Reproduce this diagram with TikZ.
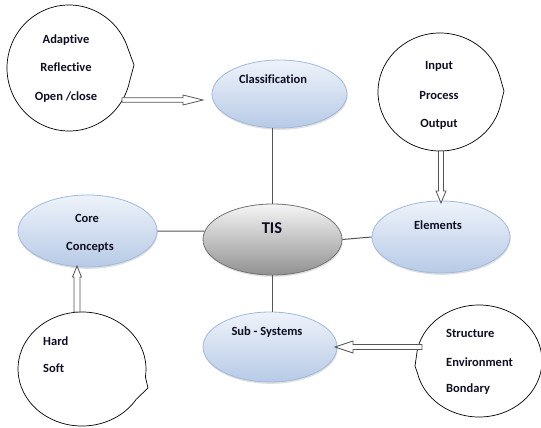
\documentclass[tikz,border=0pt]{standalone}
\usepackage{fontspec}
\setmainfont{Carlito}[Ligatures=NoCommon]
\usetikzlibrary{shapes.geometric,calc,shadows}
\definecolor{txtcol}{RGB}{15,15,35}
\definecolor{bluetop}{RGB}{238,243,250}
\definecolor{bluebot}{RGB}{183,202,230}
\definecolor{blueborder}{RGB}{160,185,220}
\definecolor{graytop}{RGB}{245,245,245}
\definecolor{graybot}{RGB}{145,145,145}
\definecolor{grayborder}{RGB}{115,115,115}
\definecolor{linecol}{RGB}{85,85,85}
\tikzset{
  blueell/.style={ellipse, draw=blueborder, line width=0.8pt, top color=bluetop, bottom color=bluebot, inner sep=0pt,
    drop shadow={shadow xshift=0.6pt, shadow yshift=-1.8pt, opacity=0.25, fill=gray}},
  tisell/.style={ellipse, draw=grayborder, line width=0.8pt, top color=graytop, bottom color=graybot, inner sep=0pt,
    drop shadow={shadow xshift=0.6pt, shadow yshift=-1.8pt, opacity=0.25, fill=gray}},
  txt/.style={font=\bfseries\fontsize{12.5}{14}\selectfont, text=txtcol, inner sep=0pt},
  bigtxt/.style={font=\bfseries\fontsize{16.5}{18}\selectfont, text=txtcol, inner sep=0pt},
  bubble/.style={draw=black, line width=0.7pt, fill=white},
  barrow/.style={draw=linecol, line width=0.8pt, fill=white, line join=miter},
  conn/.style={draw=linecol, line width=1pt}
}
\begin{document}
\begin{tikzpicture}[x=1pt,y=-1pt]
\useasboundingbox (0,0) rectangle (541,428);
\fill[white] (0,0) rectangle (541,428);

% central and satellite ellipses
\node[tisell, minimum width=139pt, minimum height=71pt] (tis) at (272.5,239.5) {};
\node[blueell, minimum width=135pt, minimum height=68pt] (cls) at (279.5,94) {};
\node[blueell, minimum width=138pt, minimum height=72pt] (elem) at (441,237) {};
\node[blueell, minimum width=139pt, minimum height=72pt] (core) at (87.5,231) {};
\node[blueell, minimum width=134pt, minimum height=70pt] (sub) at (270,347) {};

% connectors
\draw[conn] (tis.north) -- (tis.north |- cls.south);
\draw[conn] (tis.south) -- (tis.south |- sub.north);
\draw[conn] (tis.east) -- (elem.west);
\draw[conn] (core.east) -- (tis.173);

% ellipse labels
\node[bigtxt] (tist) at (272,228) {TIS};
\node[txt] (clst) at (273,79) {Classification};
\node[txt] (elemt) at (438,225) {Elements};
\node[txt] (coret1) at (87,218) {Core};
\node[txt] (coret2) at (90,247) {Concepts};
\node[txt] (subt) at (267,332) {Sub - Systems};

% callout bubbles
\coordinate (b1) at (69,68);
\coordinate (b1tip) at (134,65);
\draw[bubble] ($(b1)+(12:62 and 63)$) arc[start angle=12, end angle=342, x radius=62, y radius=63] -- (b1tip) -- cycle;
\coordinate (b2) at (440,92);
\coordinate (b2tip) at (504,91);
\draw[bubble] ($(b2)+(14:62 and 59)$) arc[start angle=14, end angle=344, x radius=62, y radius=59] -- (b2tip) -- cycle;
\coordinate (b3) at (82,369);
\coordinate (b3tip) at (148,388);
\draw[bubble] ($(b3)+(32:64 and 57)$) arc[start angle=32, end angle=368, x radius=64, y radius=57] -- (b3tip) -- cycle;
\coordinate (b4) at (479,361);
\coordinate (b4tip) at (415,366);
\draw[bubble] ($(b4)+(192:63 and 56)$) arc[start angle=192, end angle=527, x radius=63, y radius=56] -- (b4tip) -- cycle;

% bubble texts
\node[txt] (t11) at (66,40) {Adaptive};
\node[txt] (t12) at (66,67) {Reflective};
\node[txt] (t13) at (66,97) {Open /close};
\node[txt] (t21) at (439,66) {Input};
\node[txt] (t22) at (439,95) {Process};
\node[txt] (t23) at (439,124) {Output};
\node[txt, anchor=west] (t31) at (43,341) {Hard};
\node[txt, anchor=west] (t32) at (43,368) {Soft};
\node[txt, anchor=west] (t41) at (446,333) {Structure};
\node[txt, anchor=west] (t42) at (446,362) {Environment};
\node[txt, anchor=west] (t43) at (446,389) {Bondary};

% hollow block arrows
\coordinate (a1s) at (122,100);
\coordinate (a1t) at (203,100);
\draw[barrow] ($(a1s)+(0,-2.3)$) -- ($(a1t)+(-20,-2.3)$) -- ($(a1t)+(-20,-5)$) -- (a1t)
  -- ($(a1t)+(-20,5)$) -- ($(a1t)+(-20,2.3)$) -- ($(a1s)+(0,2.3)$) -- cycle;
\coordinate (a2s) at (441,151);
\coordinate (a2t) at (441,203);
\draw[barrow] ($(a2s)+(-2.5,0)$) -- ($(a2t)+(-2.5,-12)$) -- ($(a2t)+(-5,-12)$) -- (a2t)
  -- ($(a2t)+(5,-12)$) -- ($(a2t)+(2.5,-12)$) -- ($(a2s)+(2.5,0)$) -- cycle;
\coordinate (a3s) at (77,312);
\coordinate (a3t) at (77,266);
\draw[barrow] ($(a3s)+(-3,0)$) -- ($(a3t)+(-3,11)$) -- ($(a3t)+(-4.5,11)$) -- (a3t)
  -- ($(a3t)+(4.5,11)$) -- ($(a3t)+(3,11)$) -- ($(a3s)+(3,0)$) -- cycle;
\coordinate (a4s) at (422,347);
\coordinate (a4t) at (335,347);
\draw[barrow] ($(a4s)+(0,-2.5)$) -- ($(a4t)+(18,-2.5)$) -- ($(a4t)+(18,-6)$) -- (a4t)
  -- ($(a4t)+(18,6)$) -- ($(a4t)+(18,2.5)$) -- ($(a4s)+(0,2.5)$) -- cycle;
\end{tikzpicture}
\end{document}
